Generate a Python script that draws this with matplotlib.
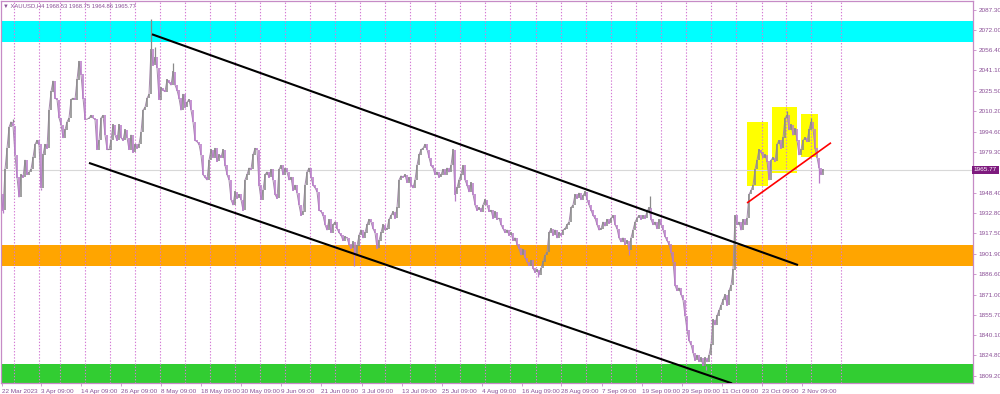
import matplotlib
matplotlib.use("Agg")
import matplotlib.pyplot as plt
from matplotlib.patches import Rectangle
from matplotlib.transforms import blended_transform_factory
import numpy as np

plt.rcParams['font.family'] = ['Liberation Sans', 'DejaVu Sans']

# ---------------- data ----------------
bar_step = 2
closes = [
    # 22 Mar - early May
    1947, 1935, 1966, 1982, 1998, 2002, 1999, 1977, 1960, 1945, 1962, 1960, 1973, 1962, 1964, 1966,
    1975, 1985, 1988, 1985, 1952, 1977, 1985, 1982, 2011, 2025, 2033, 2020, 2019, 2005, 2000, 1990,
    1996, 2002, 2005, 2019, 2020, 2019, 2034, 2048, 2038, 2020, 2004, 2004, 2005, 2007, 2005, 2004,
    1981, 1988, 2005, 2007, 1992, 1981, 1981, 1988, 2000, 1992, 1988, 2000, 1990, 1988, 1996, 1990,
    1981, 1992, 1979, 1985, 1982, 1985, 1994, 2011, 2013, 2020, 2023, 2057, 2045, 2051, 2043, 2019,
    2028, 2026, 2025, 2034, 2032, 2030, 2040, 2030, 2026, 2020, 2011, 2023, 2013, 2017, 2019, 2011,
    2002, 1988, 1987, 1985, 1977, 1962, 1960,
    # May - Jul
    1958, 1973, 1981, 1975, 1982, 1972, 1977, 1975, 1981, 1969, 1962, 1958, 1943, 1939, 1949, 1944,
    1947, 1943, 1935, 1958, 1962, 1967, 1966, 1977, 1982, 1981, 1954, 1943, 1950, 1962, 1964, 1960,
    1966, 1958, 1947, 1944, 1966, 1969, 1962, 1967, 1964, 1958, 1960, 1950, 1954, 1948, 1939, 1931,
    1934, 1954, 1964, 1967, 1960, 1954, 1952, 1949, 1935, 1934, 1931, 1924, 1920, 1928, 1918, 1924,
    1926, 1921, 1918, 1916, 1912, 1915, 1914, 1909, 1906, 1911, 1901, 1908, 1916, 1920, 1914, 1918,
    1924, 1928, 1926, 1921, 1918, 1906, 1912, 1918, 1924, 1920, 1921, 1928, 1931, 1934, 1929, 1937,
    1958, 1961, 1960, 1962, 1956, 1960, 1954, 1952, 1958,
    # Jul - Sep
    1969, 1977, 1981, 1982, 1985, 1981, 1975, 1969, 1967, 1962, 1964, 1960, 1962, 1966, 1962, 1967,
    1964, 1969, 1981, 1947, 1952, 1958, 1962, 1969, 1958, 1954, 1949, 1956, 1947, 1939, 1935, 1937,
    1934, 1939, 1943, 1939, 1934, 1935, 1929, 1934, 1928, 1929, 1924, 1921, 1918, 1920, 1916, 1918,
    1912, 1914, 1909, 1906, 1901, 1905, 1899, 1896, 1893, 1897, 1891, 1888, 1890, 1886, 1891, 1896,
    1901, 1903, 1918, 1921, 1916, 1920, 1914, 1918, 1916, 1920, 1921, 1924, 1926, 1937, 1939, 1947,
    1944, 1948, 1943, 1946, 1949, 1943, 1939, 1935, 1931, 1929, 1924, 1920, 1921, 1926, 1923, 1928,
    1925, 1929, 1931, 1924, 1921, 1914, 1911, 1914, 1909, 1912, 1905, 1914, 1920, 1926, 1929, 1931,
    1928,
    # Sep - Nov
    1931, 1929, 1934, 1937, 1928, 1924, 1926, 1921, 1928, 1924, 1920, 1915, 1912, 1909, 1903, 1896,
    1878, 1874, 1876, 1871, 1867, 1855, 1844, 1836, 1833, 1827, 1821, 1825, 1820, 1823, 1817, 1823,
    1820, 1825, 1833, 1852, 1848, 1855, 1859, 1863, 1867, 1871, 1863, 1874, 1878, 1890, 1931, 1924,
    1926, 1920, 1928, 1924, 1929, 1947, 1950, 1954, 1966, 1973, 1981, 1979, 1975, 1977, 1972, 1958,
    1973, 1975, 1972, 1985, 1988, 1982, 1990, 2005, 2007, 1996, 2000, 1992, 1997, 1988, 1977, 1981,
    1988, 1990, 1987, 1996, 2002, 1997, 1982, 1975, 1967, 1962, 1965.77,
]
# notable wick extremes: (bar, price)
wick_highs = [(12, 2004), (150, 2080), (154, 2059), (172, 2047), (649, 1946), (786, 2010), (810, 2005)]
wick_lows = [(2, 1933), (40, 1950), (353, 1893), (454, 1942), (537, 1884), (628, 1901), (705, 1814), (818, 1956)]

last_price = 1965.77
header = "▼ XAUUSD,H4 1968.53 1968.75 1964.86 1965.77"

price_ticks = [2087.30, 2072.00, 2056.40, 2041.10, 2025.50, 2010.20, 1994.60, 1979.30,
               1948.40, 1932.80, 1917.50, 1901.90, 1886.60, 1871.00, 1855.70, 1840.10,
               1824.80, 1809.20]
date_labels = ["22 Mar 2023", "3 Apr 09:00", "14 Apr 09:00", "26 Apr 09:00", "8 May 09:00",
               "18 May 09:00", "30 May 09:00", "9 Jun 09:00", "21 Jun 09:00", "3 Jul 09:00",
               "13 Jul 09:00", "25 Jul 09:00", "4 Aug 09:00", "16 Aug 09:00", "28 Aug 09:00",
               "7 Sep 09:00", "19 Sep 09:00", "29 Sep 09:00", "11 Oct 09:00", "23 Oct 09:00",
               "2 Nov 09:00"]
date_label_bars = [1, 40, 80, 120, 160, 200, 240, 280, 320, 361, 401, 441, 481, 521, 560,
                   601, 641, 681, 721, 761, 801]
week_separators = [13, 38, 59, 84, 109, 134, 159, 184, 209, 234, 259, 284, 309, 334, 359, 384,
                   409, 434, 459, 484, 509, 535, 560, 585, 610, 635, 660, 685, 710, 735, 761,
                   785, 810, 840]

# zones (price bands)
resistance_zone = (2062.9, 2078.8)
support_zone = (1892.7, 1908.6)
low_zone = (1800.0, 1818.1)

# channel & trend lines: ((bar, price), (bar, price))
upper_channel = ((151, 2068.5), (797, 1893.4))
lower_channel = ((88, 1970.9), (731, 1803.6))
neckline = ((746, 1940.5), (830, 1986.2))
# yellow boxes: (bar_left, bar_right, price_low, price_high)
boxes = [(746, 767, 1953.6, 2001.9), (771, 796, 1963.5, 2013.5), (800, 817, 1975.6, 2008.0)]

# ---------------- figure ----------------
W, H = 1000, 394
fig = plt.figure(figsize=(W / 100, H / 100), dpi=100)
fig.patch.set_facecolor('white')
ax = fig.add_axes([1 / W, 1 - 383 / H, 972 / W, 382 / H])
ax.set_xlim(0, 972)
ax.set_ylim(1803.9, 2093.75)

# zones
for (lo_, hi_), col in [(resistance_zone, '#00ffff'), (support_zone, '#ffa500'), (low_zone, '#32cd32')]:
    ax.axhspan(lo_, hi_, color=col, zorder=1, lw=0)

# yellow boxes
for x0, x1, p0, p1 in boxes:
    ax.add_patch(Rectangle((x0, p0), x1 - x0, p1 - p0, facecolor='#ffff00', edgecolor='none', zorder=1.5))

# week separators
for xs_ in week_separators:
    ax.axvline(xs_, color='#d47ad4', lw=0.8, ls=(0, (1.2, 1.6)), zorder=2)

# current price line
ax.axhline(last_price, color='#d8d8d8', lw=0.8, zorder=2)

# candles
cl = np.array(closes, dtype=float)
xs = np.arange(len(cl)) * bar_step
op = np.concatenate([[cl[0]], cl[:-1]])
lo = np.minimum(op, cl)
hi = np.maximum(op, cl)
up = cl >= op
ax.plot(xs, cl, color='#a58aac', lw=0.7, zorder=2.8)
ax.vlines(xs[up] - 0.5, lo[up], hi[up] + 0.3, color='#8a8a8a', lw=1.15, zorder=3)
ax.vlines(xs[~up] - 0.5, lo[~up] - 0.3, hi[~up], color='#b97cc9', lw=1.15, zorder=3)
for b, p in wick_highs:
    i = int(round(b / bar_step))
    ax.vlines(b, hi[i], p, color='#8a8a8a', lw=0.9, zorder=3)
for b, p in wick_lows:
    i = int(round(b / bar_step))
    ax.vlines(b, p, lo[i], color='#b97cc9', lw=0.9, zorder=3)

# lines
for (a, b), col, lw in [(upper_channel, 'black', 1.5), (lower_channel, 'black', 1.5), (neckline, '#ff0000', 1.2)]:
    ax.plot([a[0], b[0]], [a[1], b[1]], color=col, lw=lw, zorder=4, solid_capstyle='butt')

# axes styling
axis_col = '#c68bc6'
text_col = '#8a4f96'
for s in ax.spines.values():
    s.set_color(axis_col)
    s.set_linewidth(0.9)
ax.yaxis.tick_right()
ax.set_yticks(price_ticks)
ax.set_yticklabels([f"{v:.2f}" for v in price_ticks])
ax.set_xticks(date_label_bars)
ax.set_xticklabels(date_labels)
for t in ax.get_xticklabels():
    t.set_ha('left')
ax.tick_params(axis='y', which='both', length=2.5, width=0.6, color=axis_col, labelcolor=text_col,
               labelsize=4.6, pad=1.5)
ax.tick_params(axis='x', which='both', length=2.5, width=0.6, color=axis_col, labelcolor=text_col,
               labelsize=4.6, pad=1.5)

# current price label box
trans = blended_transform_factory(fig.transFigure, ax.transData)
ax.text(0.9855, last_price, f"{last_price:.2f}", transform=trans, ha='center', va='center',
        fontsize=4.6, color='white', zorder=6, clip_on=False,
        bbox=dict(boxstyle='square,pad=0.25', facecolor='#7e1a7e', edgecolor='none'))

# header
fig.text(3 / W, 1 - 5.5 / H, header, fontsize=4.2, color=text_col, ha='left', va='center')

fig.savefig('out.png', dpi=100, facecolor='white')
